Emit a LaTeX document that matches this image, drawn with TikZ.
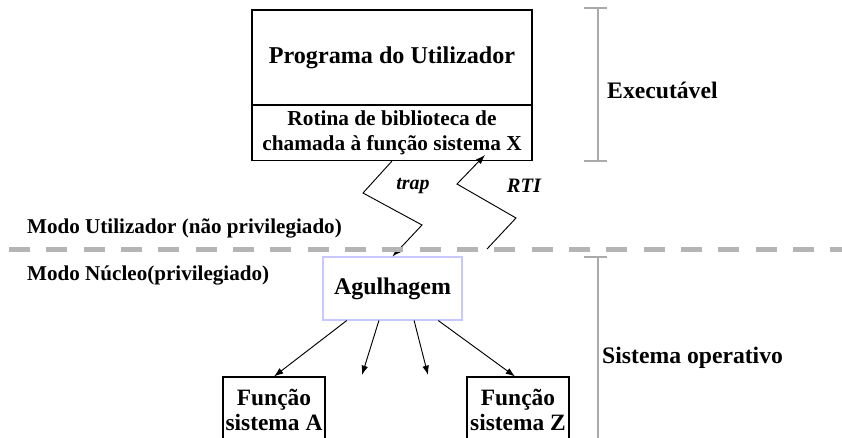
\documentclass[tikz,border=0pt]{standalone}
\usepackage{fontspec}
\setmainfont{Liberation Serif}
\usepackage{tikz}
\usetikzlibrary{positioning,arrows.meta}

\begin{document}
\begin{tikzpicture}[x=0.3mm,y=-0.3mm]
% Define colours and styles
\definecolor{bracket}{RGB}{170,170,170}
\definecolor{modeline}{RGB}{180,180,180}
\definecolor{lilac}{RGB}{200,200,255}
\tikzset{
  box/.style={draw,line width=0.9pt,align=center,inner sep=0pt,font=\bfseries},
  call/.style={line width=0.8pt,-{Latex[length=2.8mm,width=2mm]}},
  brace/.style={draw=bracket,line width=1.3pt},
  lbl/.style={anchor=west,font=\bfseries,inner sep=0pt}
}
\useasboundingbox (0,0) rectangle (842,438);
\clip (0,0) rectangle (842,438);

% Draw executable
\node[box,minimum width=84mm,minimum height=28.5mm,font=\bfseries\fontsize{20.6}{24}\selectfont] (prog) at (392,57.5) {Programa do Utilizador};
\node[box,minimum width=84mm,minimum height=16.5mm,font=\bfseries\fontsize{18.2}{21.3}\selectfont] (rot) at (392,133) {Rotina de biblioteca de\\chamada à função sistema X};

% Draw kernel side
\node[box,draw=lilac,minimum width=41.7mm,minimum height=18.9mm,font=\bfseries\fontsize{20.4}{24}\selectfont] (ag) at (392.5,288.5) {Agulhagem};
\node[box,minimum width=30.6mm,minimum height=19.5mm,font=\bfseries\fontsize{20}{21.3}\selectfont] (fa) at (274,409.5) {Função\\sistema A};
\node[box,minimum width=30.6mm,minimum height=19.5mm,font=\bfseries\fontsize{20}{21.3}\selectfont] (fz) at (518,409.5) {Função\\sistema Z};
\coordinate (f2) at (362,375);
\coordinate (f3) at (428,375);

% Draw dispatch arrows
\draw[call] (ag.215) -- (fa.north);
\draw[call] (ag.247) -- (f2);
\draw[call] (ag.304) -- (f3);
\draw[call] (ag.325) -- (fz.north -| 515,0);

% Draw trap and return
\coordinate (rtistart) at (487,249);
\coordinate (rtiend) at (485,155);
\draw[call] (rot.south) -- (363,193) -- (422,225) -- (ag.north);
\draw[call] (rtistart) -- (516,218) -- (457,184) -- (rtiend);
\node[font=\bfseries\itshape\fontsize{17}{20}\selectfont] (trap) at (413,186) {trap};
\node[font=\bfseries\itshape\fontsize{17.5}{20}\selectfont] (rti) at (524,186) {RTI};

% Draw mode boundary
\draw[modeline,line width=1.5mm,dash pattern=on 6.3mm off 4.9mm] (9,249.5) -- (842,249.5);
\node[lbl,font=\bfseries\fontsize{18}{21}\selectfont] (user) at (27,228) {Modo Utilizador (não privilegiado)};
\node[lbl,font=\bfseries\fontsize{18}{21}\selectfont] (kern) at (27,275) {Modo Núcleo(privilegiado)};

% Draw brackets
\draw[brace] (598,8) -- (598,161);
\draw[brace] (584,8) -- (607,8);
\draw[brace] (584,161) -- (607,161);
\draw[brace] (598,257) -- (598,450);
\draw[brace] (584,257) -- (607,257);
\node[lbl,font=\bfseries\fontsize{20.2}{24}\selectfont] (exe) at (607,90) {Executável};
\node[lbl,font=\bfseries\fontsize{20.2}{24}\selectfont] (so) at (602,358) {Sistema operativo};
\end{tikzpicture}
\end{document}
